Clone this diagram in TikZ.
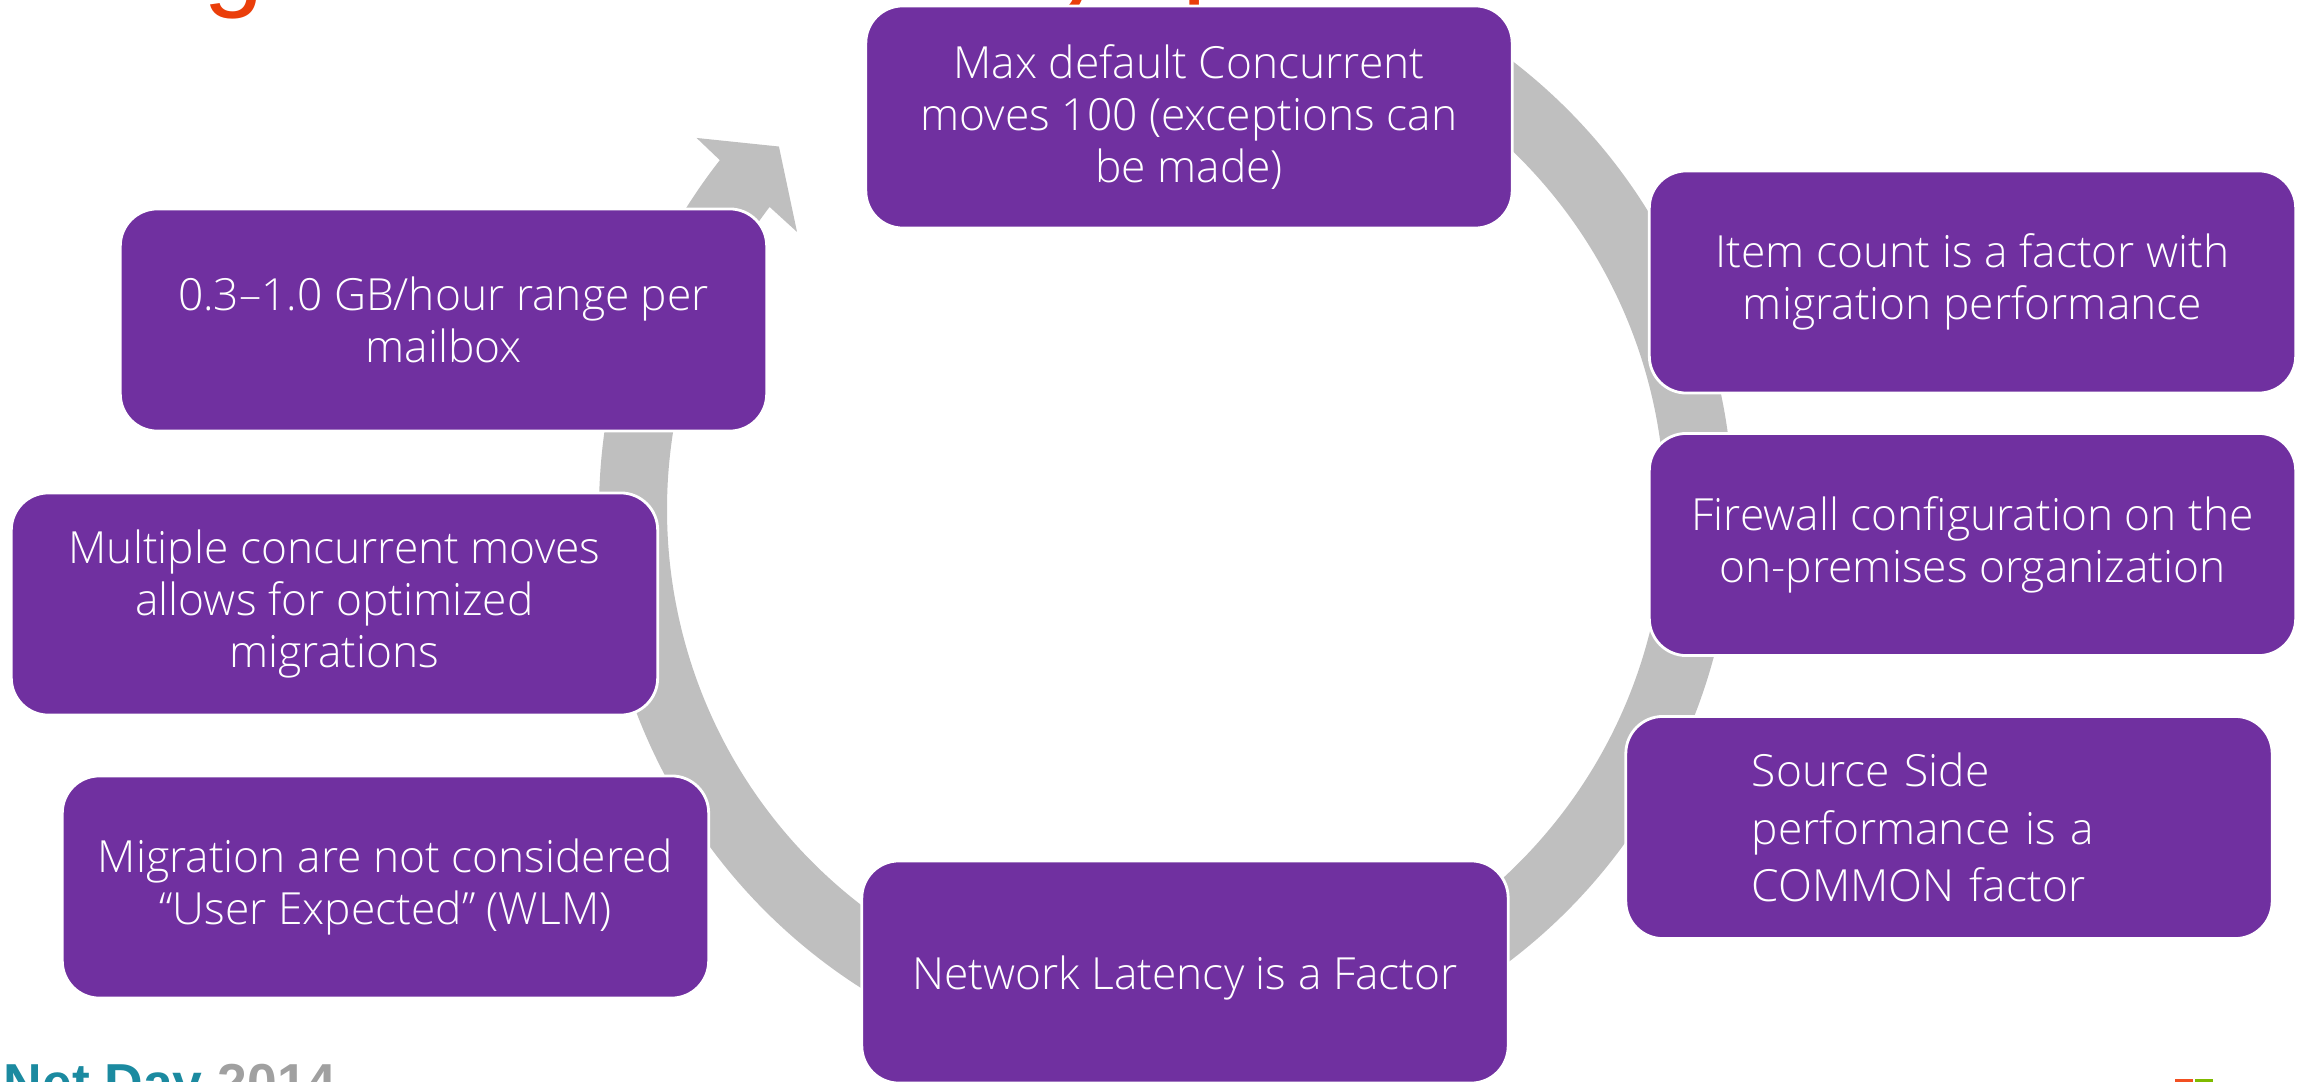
\documentclass[tikz,border=0pt]{standalone}
\usepackage{fontspec}
\setmainfont{Open Sans Light}
\newfontfamily\titlefont{Liberation Sans}
\definecolor{boxpurple}{RGB}{112,48,160}
\definecolor{ringgrey}{RGB}{191,191,191}
\definecolor{titleorange}{RGB}{234,62,10}
\definecolor{netteal}{RGB}{27,138,160}
\definecolor{netgrey}{RGB}{160,160,160}
\definecolor{winorange}{RGB}{242,80,34}
\definecolor{wingreen}{RGB}{127,186,0}
\begin{document}
\begin{tikzpicture}[x=0.01cm,y=-0.01cm,
  box/.style={draw=white, line width=0.8pt, fill=boxpurple, rounded corners=0.37cm,
    minimum width=6.46cm, minimum height=2.22cm, text=white,
    font=\fontsize{12.6}{14.8}\selectfont, align=center, inner sep=0pt},
  titleglyph/.style={anchor=base west, inner sep=0pt, text=titleorange,
    font=\titlefont\fontsize{31}{31}\selectfont}
]
\useasboundingbox (0,0) rectangle (2308,1082);
\clip (0,0) rectangle (2308,1082);

% fragments of the cut-off title
\node[titleglyph] (tg) at (203,-3) {g};
\node[titleglyph] (ty) at (1052,-5) {y};
\node[titleglyph] (tp) at (1182,-5) {p};

% circular arrow
\begin{scope}[shift={(1166,510)}, yscale=-1]
  \fill[ringgrey] (60:567) arc[start angle=60, end angle=-218.1, radius=567]
    -- (-218.4:599) -- (-223.2:531) -- (-217:462) -- (-217.4:499)
    arc[start angle=-217.4, end angle=60, radius=499] -- cycle;
\end{scope}

% boxes
\node[box] (b1) at (1189,117) {Max default Concurrent\\moves 100 (exceptions can\\be made)};
\node[box] (b2) at (1972.5,282) {Item count is a factor with\\migration performance};
\node[box] (b3) at (1972.5,544.5) {Firewall configuration on the\\on-premises organization};
\node[box, align=left, text width=3.94cm, font=\fontsize{12.6}{16.4}\selectfont] (b4) at (1949,827.5) {Source Side\\performance is a\\COMMON factor};
\node[box] (b5) at (1185,972) {\raisebox{-0.17cm}[0pt][0pt]{Network Latency is a Factor}};
\node[box] (b6) at (385.5,887) {Migration are not considered\\“User Expected” (WLM)};
\node[box] (b7) at (334.5,604) {Multiple concurrent moves\\allows for optimized\\migrations};
\node[box] (b8) at (443.5,320) {0.3–1.0 GB/hour range per\\mailbox};

% footer
\node[anchor=base west, inner sep=0pt, font=\titlefont\bfseries\fontsize{15.2}{15.2}\selectfont] (nd) at (3,1101) {\textcolor{netteal}{Net Day} \textcolor{netgrey}{2014}};
\fill[winorange] (2175,1079) rectangle (2193,1097);
\fill[wingreen] (2195,1079) rectangle (2213,1097);
\end{tikzpicture}
\end{document}
